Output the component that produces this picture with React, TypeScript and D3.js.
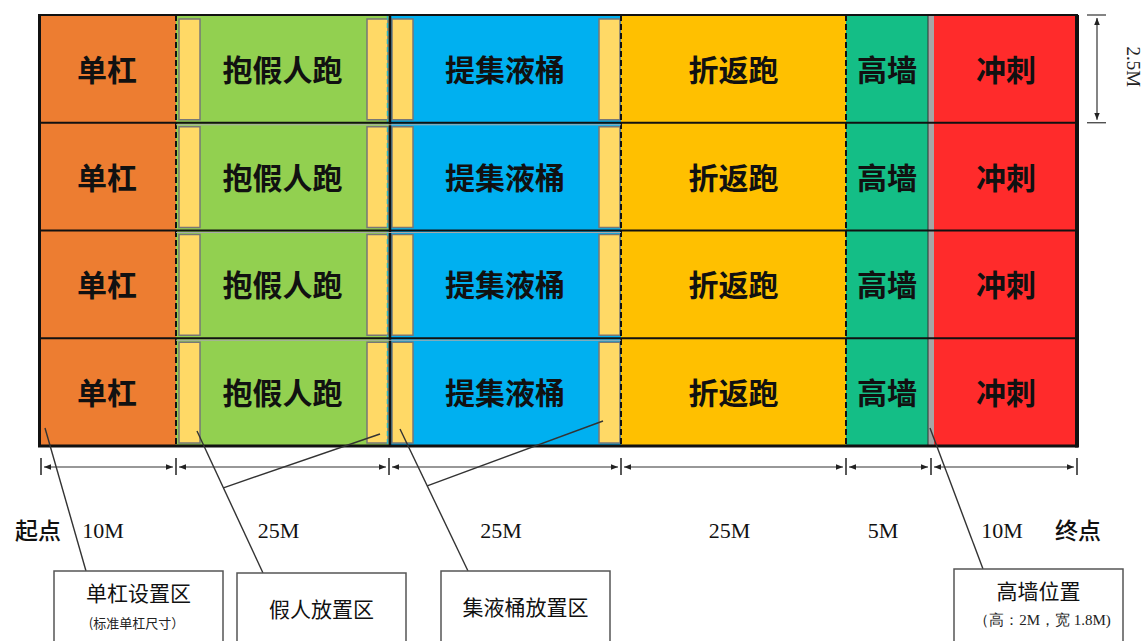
import React from "react";
import * as d3 from "d3";

// course data
const zones = ["单杠", "抱假人跑", "提集液桶", "折返跑", "高墙", "冲刺"];
const zoneLengths = [10, 25, 25, 25, 5, 10];
const lengthLabels = ["10M", "25M", "25M", "25M", "5M", "10M"];
const lanes = [1, 2, 3, 4];
const laneWidthLabel = "2.5M";
const startLabel = "起点";
const endLabel = "终点";
const calloutTitles = ["单杠设置区", "假人放置区", "集液桶放置区", "高墙位置"];
const calloutNotes = ["(标准单杠尺寸）", "", "", "（高：2M，宽 1.8M)"];

// styles
const zoneColors = ["#ED7D31", "#92D050", "#00B0F0", "#FFC000", "#14BE86", "#FF2B2B"];
const stripFill = "#FFD966";
const wallFill = "#A6A6A6";
const cjk = "'Noto Sans CJK SC', sans-serif";
const serif = "'Liberation Serif', 'Times New Roman', serif";

const W = 1147;
const H = 641;

// layout for the callout boxes (left, top)
const calloutBoxes = [
  { x: 54, y: 571 },
  { x: 237, y: 573 },
  { x: 441, y: 571 },
  { x: 954, y: 569 },
];
const boxW = 169;

const App: React.FC = () => {
  const bounds = [0, ...d3.cumsum(zoneLengths)];
  // segments are not drawn to scale in the original, so a piecewise scale
  const x = d3
    .scaleLinear()
    .domain(bounds)
    .range([38, 176, 389, 621, 846, 931, 1078]);
  const y = d3.scaleBand<number>().domain(lanes).range([15, 446]);
  const bw = y.bandwidth();
  const top = y.range()[0];
  const bottom = y.range()[1];
  const wallX = x(90);

  const zoneX0 = (i: number) => (i === 5 ? wallX + 3 : x(bounds[i]));
  const zoneX1 = (i: number) => (i === 4 ? wallX - 3 : x(bounds[i + 1]));

  // yellow placement strips in zones 1 and 2
  const strips: { x: number; w: number }[] = [];
  [1, 2].forEach((i) => {
    strips.push({ x: zoneX0(i) + 3, w: 21 });
    strips.push({ x: zoneX1(i) - 22, w: 21 });
  });

  const tickXs = bounds.map((b, i) =>
    i === 0 ? x(b) + 3 : i === bounds.length - 1 ? x(b) - 1 : x(b)
  );
  const dimY = 467;

  // leader lines: [start, target, optional branch target]
  const leaders = [
    { s: [calloutBoxes[0].x + 32, calloutBoxes[0].y], t: [x(0) + 7, bottom - 18] },
    {
      s: [calloutBoxes[1].x + 26, calloutBoxes[1].y],
      t: [zoneX0(1) + 21, bottom - 15],
      b: [zoneX1(1) - 9, bottom - 12],
    },
    {
      s: [calloutBoxes[2].x + 27, calloutBoxes[2].y],
      t: [zoneX0(2) + 11, bottom - 17],
      b: [zoneX1(2) - 18, bottom - 25],
    },
    { s: [calloutBoxes[3].x + 29, calloutBoxes[3].y], t: [wallX - 1, bottom - 18] },
  ];

  const dashed = [bounds[1], bounds[3], bounds[4]];

  return (
    <svg
      width={W}
      height={H}
      style={{ position: "absolute", left: 0, top: 0, background: "#fff" }}
    >
      <defs>
        <marker
          id="arr"
          viewBox="0 0 10 10"
          refX="10"
          refY="5"
          markerWidth="6"
          markerHeight="6"
          orient="auto-start-reverse"
        >
          <path d="M0,1 L10,5 L0,9 z" fill="#222" />
        </marker>
      </defs>

      {/* zone fills */}
      {zones.map((z, i) => (
        <rect
          key={z}
          x={zoneX0(i)}
          y={top}
          width={zoneX1(i) - zoneX0(i)}
          height={bottom - top}
          fill={zoneColors[i]}
        />
      ))}
      <rect x={wallX - 3} y={top} width={6} height={bottom - top} fill={wallFill} />
      <line x1={wallX - 3} x2={wallX - 3} y1={top} y2={bottom} stroke="#333" strokeWidth={1} />

      {/* placement strips */}
      {lanes.map((l) =>
        strips.map((s, j) => (
          <rect
            key={`${l}-${j}`}
            x={s.x}
            y={(y(l) as number) + 4}
            width={s.w}
            height={bw - 7}
            fill={stripFill}
            stroke="#777"
            strokeWidth={1.5}
          />
        ))
      )}

      {/* zone dividers */}
      {dashed.map((b) => (
        <line
          key={b}
          x1={x(b)}
          x2={x(b)}
          y1={top}
          y2={bottom}
          stroke="#111"
          strokeWidth={2}
          strokeDasharray="6 3"
        />
      ))}
      <line x1={x(35) - 1.5} x2={x(35) - 1.5} y1={top} y2={bottom} stroke="#2BB3C6" strokeWidth={1.5} strokeDasharray="5 3" />
      <line x1={x(35) + 1} x2={x(35) + 1} y1={top} y2={bottom} stroke="#111" strokeWidth={2.5} />

      {/* lane separators */}
      {lanes.slice(1).map((l) => (
        <g key={l}>
          <line x1={x(0)} x2={x(100)} y1={y(l)} y2={y(l)} stroke="#111" strokeWidth={2} />
          <line x1={x(10)} x2={x(60)} y1={(y(l) as number) + 2} y2={(y(l) as number) + 2} stroke="#aaa" strokeWidth={1} />
        </g>
      ))}

      {/* outer border */}
      <line x1={x(0)} x2={x(100)} y1={top} y2={top} stroke="#111" strokeWidth={2} />
      <line x1={x(0)} x2={x(100)} y1={bottom} y2={bottom} stroke="#111" strokeWidth={3} />
      <line x1={x(0) + 1.5} x2={x(0) + 1.5} y1={top} y2={bottom} stroke="#111" strokeWidth={3} />
      <line x1={x(100) - 1} x2={x(100) - 1} y1={top} y2={bottom + 1.5} stroke="#111" strokeWidth={4} />

      {/* zone labels */}
      {lanes.map((l) =>
        zones.map((z, i) => (
          <text
            key={`${l}-${z}`}
            x={(zoneX0(i) + zoneX1(i)) / 2}
            y={(y(l) as number) + bw / 2 - 1}
            textAnchor="middle"
            dominantBaseline="central"
            fontFamily={cjk}
            fontWeight={700}
            fontSize={30}
            fill="#111"
          >
            {z}
          </text>
        ))
      )}

      {/* horizontal dimension */}
      {tickXs.map((tx, i) => (
        <line key={i} x1={tx} x2={tx} y1={dimY - 9} y2={dimY + 8} stroke="#222" strokeWidth={1.5} />
      ))}
      {zoneLengths.map((_, i) => (
        <line
          key={i}
          x1={tickXs[i] + 3}
          x2={tickXs[i + 1] - 3}
          y1={dimY}
          y2={dimY}
          stroke="#333"
          strokeWidth={1.2}
          markerStart="url(#arr)"
          markerEnd="url(#arr)"
        />
      ))}
      {lengthLabels.map((t, i) => (
        <text
          key={i}
          x={(zoneX0(i) + zoneX1(i)) / 2 - 4}
          y={530}
          textAnchor="middle"
          dominantBaseline="central"
          fontFamily={serif}
          fontSize={22}
          fill="#111"
        >
          {t}
        </text>
      ))}
      <text x={x(0)} y={529} textAnchor="middle" dominantBaseline="central" fontFamily={cjk} fontWeight={500} fontSize={23} fill="#111">
        {startLabel}
      </text>
      <text x={x(100)} y={529} textAnchor="middle" dominantBaseline="central" fontFamily={cjk} fontWeight={500} fontSize={23} fill="#111">
        {endLabel}
      </text>

      {/* lane width dimension */}
      {[top, top + bw].map((ty, i) => (
        <line key={i} x1={1087} x2={1106} y1={ty} y2={ty} stroke="#333" strokeWidth={1.2} />
      ))}
      <line
        x1={1097}
        x2={1097}
        y1={top + 3}
        y2={top + bw - 3}
        stroke="#333"
        strokeWidth={1.2}
        markerStart="url(#arr)"
        markerEnd="url(#arr)"
      />
      <text
        transform={`translate(1133,${top + bw / 2 - 2}) rotate(90)`}
        textAnchor="middle"
        dominantBaseline="central"
        fontFamily={serif}
        fontSize={19}
        fill="#222"
      >
        {laneWidthLabel}
      </text>

      {/* leader lines */}
      {leaders.map((ld, i) => {
        const bx = ld.s[0] + (ld.t[0] - ld.s[0]) * 0.6;
        const by = ld.s[1] + (ld.t[1] - ld.s[1]) * 0.6;
        return (
          <g key={i} stroke="#333" strokeWidth={1.4}>
            <line x1={ld.s[0]} y1={ld.s[1]} x2={ld.t[0]} y2={ld.t[1]} />
            {ld.b && <line x1={bx} y1={by} x2={ld.b[0]} y2={ld.b[1]} />}
          </g>
        );
      })}

      {/* callout boxes */}
      {calloutTitles.map((t, i) => {
        const b = calloutBoxes[i];
        const cx = b.x + boxW / 2;
        const hasNote = calloutNotes[i] !== "";
        return (
          <g key={t}>
            <rect x={b.x} y={b.y} width={boxW} height={H - b.y + 5} fill="#fff" stroke="#555" strokeWidth={1.5} />
            <text
              x={cx}
              y={hasNote ? b.y + 21 : b.y + 35}
              textAnchor="middle"
              dominantBaseline="central"
              fontFamily={cjk}
              fontSize={21}
              fill="#111"
            >
              {t}
            </text>
            {hasNote && (
              <text
                x={cx + (i === 3 ? 4 : -2)}
                y={b.y + 51}
                textAnchor="middle"
                dominantBaseline="central"
                fontFamily={i === 3 ? serif : cjk}
                fontSize={i === 3 ? 15 : 13}
                fill="#222"
              >
                {calloutNotes[i]}
              </text>
            )}
          </g>
        );
      })}
    </svg>
  );
};

export default App;
